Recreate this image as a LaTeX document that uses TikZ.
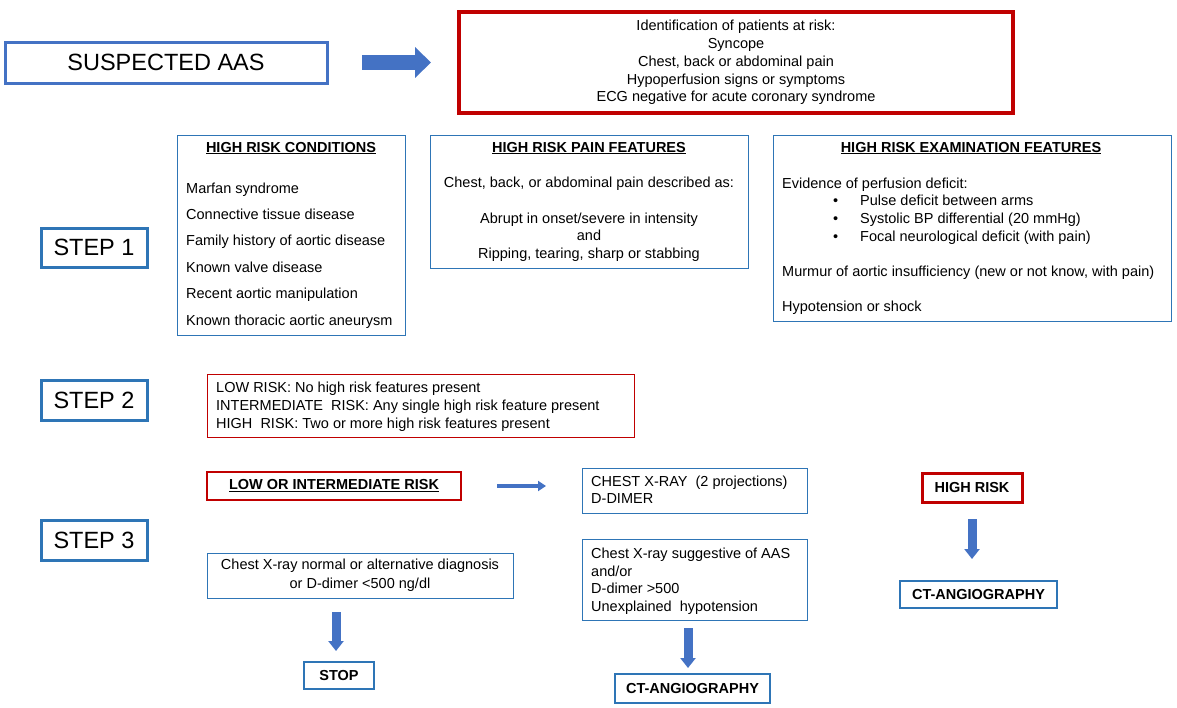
\documentclass[tikz,border=0pt]{standalone}
\usepackage{fontspec}
\setmainfont{Liberation Sans}
\usetikzlibrary{arrows.meta}
\definecolor{aasblue}{HTML}{4472C4}
\definecolor{stepblue}{HTML}{2E75B6}
\definecolor{darkred}{HTML}{C00000}
\tikzset{
  box/.style={anchor=north west, inner sep=0pt, outer sep=0pt},
  thinblue/.style={box, draw=stepblue, line width=1pt},
  thinred/.style={box, draw=darkred, line width=1pt},
  stepbox/.style={box, draw=stepblue, line width=3pt, font=\fontsize{23.5}{28}\selectfont},
  aasbox/.style={box, draw=aasblue, line width=3pt, font=\fontsize{23.5}{28}\selectfont},
  bigred/.style={box, draw=darkred, line width=3.5pt},
  midred/.style={box, draw=darkred, line width=2.5pt, font=\fontsize{14.5}{17}\selectfont\bfseries},
  endbox/.style={box, draw=stepblue, line width=2pt, font=\fontsize{14.5}{17}\selectfont\bfseries},
  txt/.style={inner sep=0pt, font=\fontsize{14.5}{17}\selectfont, anchor=base west},
  ttl/.style={inner sep=0pt, font=\fontsize{14.5}{17}\selectfont\bfseries, anchor=base},
  bigarrow/.style={aasblue, line width=15pt, -{Triangle[width=30pt, length=16pt]}},
  downarrow/.style={aasblue, line width=9pt, -{Triangle[width=15pt, length=10pt]}},
  smallarrow/.style={aasblue, line width=4pt, -{Triangle[width=10pt, length=8pt]}},
}
\begin{document}
\begin{tikzpicture}[x=1pt,y=-1pt]
\useasboundingbox (0,0) rectangle (1177,707);

% top row
\node[aasbox, minimum width=322pt, minimum height=41pt] (sus) at (5,42) {SUSPECTED AAS};
\node[bigred, minimum width=554pt, minimum height=101pt, align=center,
      font=\fontsize{14.5}{17.75}\selectfont] (risk) at (459,12)
  {Identification of patients at risk:\\Syncope\\Chest, back or abdominal pain\\Hypoperfusion signs or symptoms\\ECG negative for acute coronary syndrome};
\draw[bigarrow] ([xshift=35pt]sus.east) -- ([xshift=-28pt]risk.west |- sus.east);

% step 1
\node[stepbox, minimum width=106pt, minimum height=39pt] (s1) at (41,228) {STEP 1};

\node[thinblue, minimum width=228pt, minimum height=200pt] (cond) at (177,135) {};
\node[ttl] (condt) at (291,152) {\underline{HIGH RISK CONDITIONS}};
\node[txt] (c1) at (186,193) {Marfan syndrome};
\node[txt] (c2) at (186,219) {Connective tissue disease};
\node[txt] (c3) at (186,245) {Family history of aortic disease};
\node[txt] (c4) at (186,272) {Known valve disease};
\node[txt] (c5) at (186,298) {Recent aortic manipulation};
\node[txt] (c6) at (186,325) {Known thoracic aortic aneurysm};

\node[thinblue, minimum width=318pt, minimum height=133pt] (pain) at (430,135) {};
\node[ttl] (paint) at (589,152) {\underline{HIGH RISK PAIN FEATURES}};
\node[txt, anchor=base] (p1) at (589,187) {Chest, back, or abdominal pain described as:};
\node[txt, anchor=base] (p2) at (589,223) {Abrupt in onset/severe in intensity};
\node[txt, anchor=base] (p3) at (589,240) {and};
\node[txt, anchor=base] (p4) at (589,258) {Ripping, tearing, sharp or stabbing};

\node[thinblue, minimum width=398pt, minimum height=186pt] (exam) at (773,135) {};
\node[ttl] (examt) at (971,152) {\underline{HIGH RISK EXAMINATION FEATURES}};
\node[txt] (e1) at (782,188) {Evidence of perfusion deficit:};
\node[txt] (b1) at (833,205) {•};
\node[txt] (b2) at (833,223) {•};
\node[txt] (b3) at (833,241) {•};
\node[txt] (e2) at (860,205) {Pulse deficit between arms};
\node[txt] (e3) at (860,223) {Systolic BP differential (20 mmHg)};
\node[txt] (e4) at (860,241) {Focal neurological deficit (with pain)};
\node[txt] (e5) at (782,276) {Murmur of aortic insufficiency (new or not know, with pain)};
\node[txt] (e6) at (782,311) {Hypotension or shock};

% step 2
\node[stepbox, minimum width=106pt, minimum height=40pt] (s2) at (41,380) {STEP 2};
\node[thinred, minimum width=427pt, minimum height=63pt] (lev) at (207,374) {};
\node[txt] (l1) at (216,392) {LOW RISK: No high risk features present};
\node[txt] (l2) at (216,410) {INTERMEDIATE~ RISK: Any single high risk feature present};
\node[txt] (l3) at (216,428) {HIGH~ RISK: Two or more high risk features present};

% step 3
\node[stepbox, minimum width=106pt, minimum height=40pt] (s3) at (41,520) {STEP 3};

\node[midred, minimum width=254pt, minimum height=28pt] (lowint) at (207,472) {\underline{LOW OR INTERMEDIATE RISK}};
\node[thinblue, minimum width=225pt, minimum height=45pt] (cxr) at (582,468) {};
\node[txt] (x1) at (591,486) {CHEST X-RAY~ (2 projections)};
\node[txt] (x2) at (591,503) {D-DIMER};
\draw[smallarrow] ([xshift=36pt]lowint.east) -- ([xshift=-36pt]cxr.west |- lowint.east);

\node[thinblue, minimum width=306pt, minimum height=45pt, align=center,
      font=\fontsize{14.5}{19}\selectfont] (norm) at (207,553)
  {Chest X-ray normal or alternative diagnosis\\or D-dimer <500 ng/dl};
\node[endbox, minimum width=70pt, minimum height=27pt] (stop) at (304,662) {STOP};
\draw[downarrow] ([xshift=-3pt, yshift=-14pt]stop.north |- norm.south) -- ([xshift=-3pt, yshift=11pt]stop.north);

\node[thinblue, minimum width=225pt, minimum height=81pt] (sugg) at (582,539) {};
\node[txt] (g1) at (591,558) {Chest X-ray suggestive of AAS};
\node[txt] (g2) at (591,576) {and/or};
\node[txt] (g3) at (591,593) {D-dimer >500};
\node[txt] (g4) at (591,611) {Unexplained~ hypotension};
\node[endbox, minimum width=155pt, minimum height=29pt] (cta1) at (615,674) {CT-ANGIOGRAPHY};
\draw[downarrow] ([xshift=-4.5pt, yshift=-8pt]cta1.north |- sugg.south) -- ([xshift=-4.5pt, yshift=6pt]cta1.north);

\node[midred, line width=3pt, minimum width=100pt, minimum height=29pt] (high) at (922,473) {HIGH RISK};
\node[endbox, minimum width=157pt, minimum height=27pt] (cta2) at (900,581) {CT-ANGIOGRAPHY};
\draw[downarrow] ([yshift=-17pt]high.south) -- ([yshift=22pt]high.south |- cta2.north);
\end{tikzpicture}
\end{document}
